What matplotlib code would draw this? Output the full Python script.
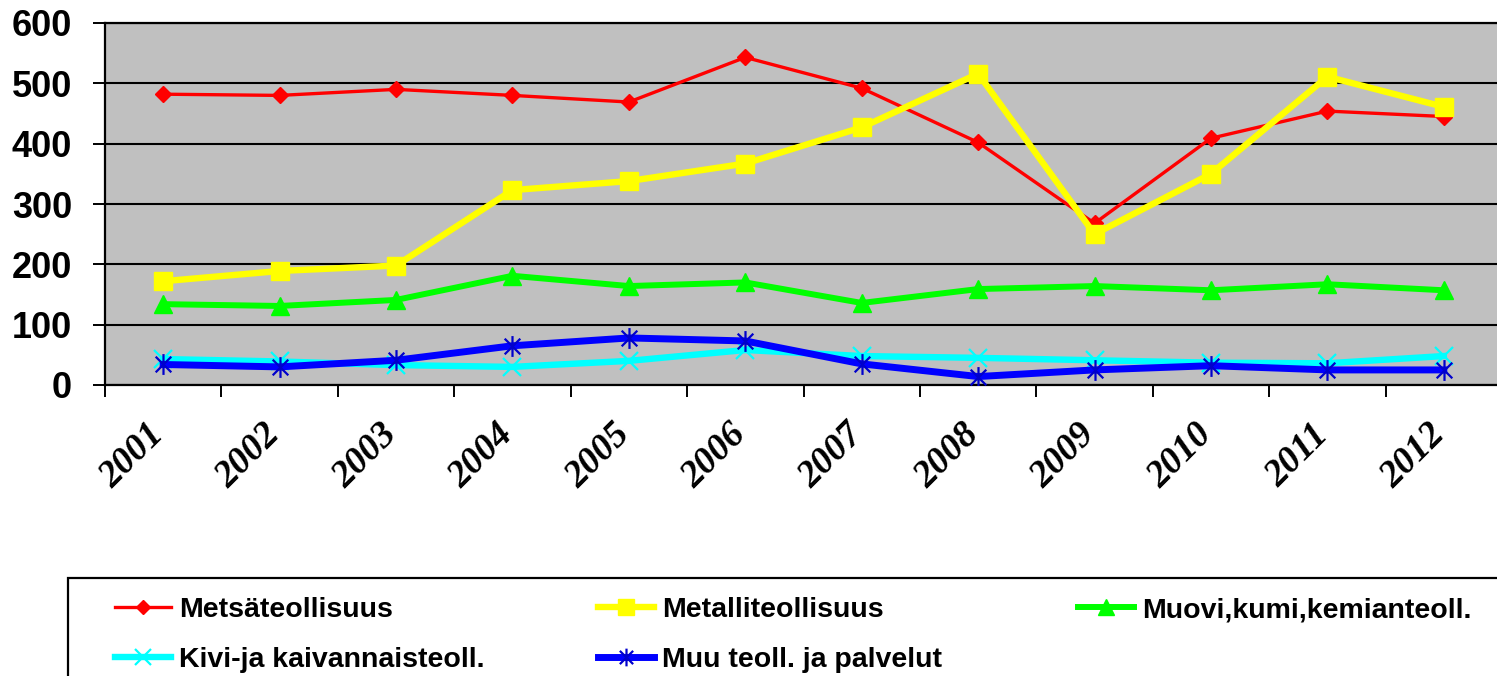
import matplotlib
matplotlib.use("Agg")
import matplotlib.pyplot as plt
from matplotlib.patches import Rectangle
from matplotlib.path import Path
from matplotlib.transforms import ScaledTranslation

# data
years = ['2001', '2002', '2003', '2004', '2005', '2006',
         '2007', '2008', '2009', '2010', '2011', '2012']
metsa = [482, 480, 490, 480, 469, 543, 492, 402, 268, 409, 454, 445]
metalli = [172, 189, 198, 323, 338, 367, 427, 516, 250, 350, 511, 461]
muovi = [134, 131, 141, 181, 164, 170, 136, 159, 164, 157, 167, 157]
kivi = [43, 39, 33, 30, 40, 58, 48, 45, 41, 37, 36, 48]
muu = [34, 30, 41, 65, 78, 73, 35, 14, 25, 32, 25, 25]

labels = ['Metsäteollisuus', 'Metalliteollisuus', 'Muovi,kumi,kemianteoll.',
          'Kivi-ja kaivannaisteoll.', 'Muu teoll. ja palvelut']

# excel style star: x plus a vertical bar
M, L = Path.MOVETO, Path.LINETO
star = Path([(0, -1), (0, 1), (-0.75, -0.75), (0.75, 0.75), (-0.75, 0.75), (0.75, -0.75)],
            [M, L, M, L, M, L])

W, H = 1497, 676
fig = plt.figure(figsize=(W / 100, H / 100), dpi=100)
ax = fig.add_axes([105 / W, 1 - 385 / H, 1397 / W, 362 / H])
ax.set_facecolor('#C0C0C0')

x = list(range(len(years)))
l1, = ax.plot(x, metsa, color='#FF0000', lw=2.4, marker='D', ms=8, zorder=3)
l2, = ax.plot(x, metalli, color='#FFFF00', lw=4.6, marker='s', ms=13, zorder=3)
l3, = ax.plot(x, muovi, color='#00FF00', lw=4.3, marker='^', ms=13, zorder=3)
l4, = ax.plot(x, kivi, color='#00FFFF', lw=4.6, marker='x', ms=13, mew=1.6, zorder=3)
l5, = ax.plot(x, muu, color='#0000FF', lw=5, marker=star, ms=15, mew=1.6,
              mec='#0000CC', zorder=3)

ax.set_xlim(-0.5, len(years) - 0.5)
ax.set_ylim(0, 600)
ax.set_yticks(range(0, 601, 100))
ax.yaxis.grid(True, color='black', lw=1.5)
ax.set_axisbelow(True)

for s in ax.spines.values():
    s.set_linewidth(1.6)
    s.set_color('black')

ax.tick_params(axis='y', length=8.6, width=1.4, pad=15, direction='out')
for t in ax.get_yticklabels():
    t.set_fontfamily('Liberation Sans')
    t.set_fontweight('bold')
    t.set_fontsize(26)

# year labels at category centres, tick marks on category boundaries
ax.set_xticks(x)
ax.set_xticklabels(years, rotation=45, ha='right', va='top',
                   family='Liberation Serif', weight='bold', style='italic',
                   fontsize=27)
ax.tick_params(axis='x', which='major', length=0, pad=23)
ax.set_xticks([i - 0.5 for i in range(len(years) + 1)], minor=True)
ax.tick_params(axis='x', which='minor', length=8.6, width=1.4, direction='out')
offset = ScaledTranslation(8 / 100, 0, fig.dpi_scale_trans)
for t in ax.get_xticklabels():
    t.set_transform(t.get_transform() + offset)

# legend, one column at a time so the columns sit where excel put them
columns = [([l1, l4], [labels[0], labels[3]], 115),
           ([l2, l5], [labels[1], labels[4]], 598),
           ([l3], [labels[2]], 1078)]
for handles, texts, left in columns:
    leg = fig.legend(handles, texts, loc='upper left',
                     bbox_to_anchor=(left / W, 1 - 597 / H),
                     frameon=False, borderpad=0, borderaxespad=0,
                     handlelength=1.95, handletextpad=0.3, labelspacing=0.84,
                     prop={'family': 'Liberation Sans', 'weight': 'bold', 'size': 20.5})
    for h in leg.legend_handles:
        h.set_markersize(h.get_markersize() * 0.85)

fig.patches.append(Rectangle((68 / W, -0.1), 1.0, 0.1 + (1 - 578 / H),
                             transform=fig.transFigure, fill=False,
                             edgecolor='black', lw=1.6))

fig.savefig('out.png', dpi=100)
